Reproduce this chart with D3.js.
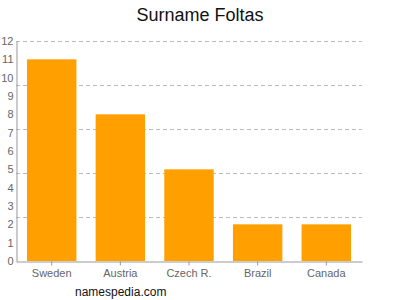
<!DOCTYPE html>
<html>
<head>
<meta charset="utf-8">
<script src="https://cdn.jsdelivr.net/npm/d3@7"></script>
<style>
  body { margin: 0; background: #fff; }
  text { font-family: "Liberation Sans", Arial, sans-serif; }
</style>
</head>
<body>
<div id="container"></div>
<script>
// donnees
const countries = ["Sweden", "Austria", "Czech R.", "Brazil", "Canada"];
const counts = [11, 8, 5, 2, 2];
const yTicks = [0, 1, 2, 3, 4, 5, 6, 7, 8, 9, 10, 11, 12];
const gridValues = [2.4, 4.8, 7.2, 9.6, 12];

const width = 400, height = 300;
const plotLeft = 16, plotRight = 362, plotTop = 41, plotBottom = 261;

const svg = d3.select("#container").append("svg")
    .attr("width", width)
    .attr("height", height);

const x = d3.scaleBand()
    .domain(countries)
    .range([plotLeft, plotRight])
    .paddingInner(0.28)
    .paddingOuter(0.16);

const y = d3.scaleLinear()
    .domain([0, 12])
    .range([plotBottom, plotTop]);

// titre
svg.append("text")
    .attr("x", 200)
    .attr("y", 21)
    .attr("text-anchor", "middle")
    .attr("font-size", 18)
    .attr("fill", "#111")
    .text("Surname Foltas");

// lignes de grille
svg.append("g")
    .selectAll("line")
    .data(gridValues)
    .join("line")
    .attr("x1", plotLeft)
    .attr("x2", plotRight)
    .attr("y1", d => Math.round(y(d)) + 0.5)
    .attr("y2", d => Math.round(y(d)) + 0.5)
    .attr("stroke", "#bbb")
    .attr("stroke-dasharray", "4,3");

// barres
svg.append("g")
    .selectAll("rect")
    .data(countries)
    .join("rect")
    .attr("x", d => x(d))
    .attr("width", x.bandwidth())
    .attr("y", (d, i) => y(counts[i]))
    .attr("height", (d, i) => y(0) - y(counts[i]))
    .attr("fill", "#ffa000");

// axe y
const yAxis = svg.append("g")
    .attr("transform", `translate(${plotLeft + 0.5},0)`)
    .call(d3.axisLeft(y).tickValues(yTicks).tickSize(0).tickPadding(3));
yAxis.select(".domain").attr("stroke", "#999");
yAxis.selectAll("text").attr("fill", "#666").attr("font-size", 11)
    .attr("font-family", "Liberation Sans, Arial, sans-serif");

// axe x
const xAxis = svg.append("g")
    .attr("transform", `translate(0,${plotBottom + 0.5})`)
    .call(d3.axisBottom(x).tickSize(4).tickPadding(4).tickSizeOuter(0));
xAxis.select(".domain").attr("stroke", "#999");
xAxis.selectAll(".tick line").attr("stroke", "#999");
xAxis.selectAll("text").attr("fill", "#666").attr("font-size", 11)
    .attr("font-family", "Liberation Sans, Arial, sans-serif");

// source
svg.append("text")
    .attr("x", 75)
    .attr("y", 296)
    .attr("font-size", 12)
    .attr("fill", "#111")
    .text("namespedia.com");
</script>
</body>
</html>
